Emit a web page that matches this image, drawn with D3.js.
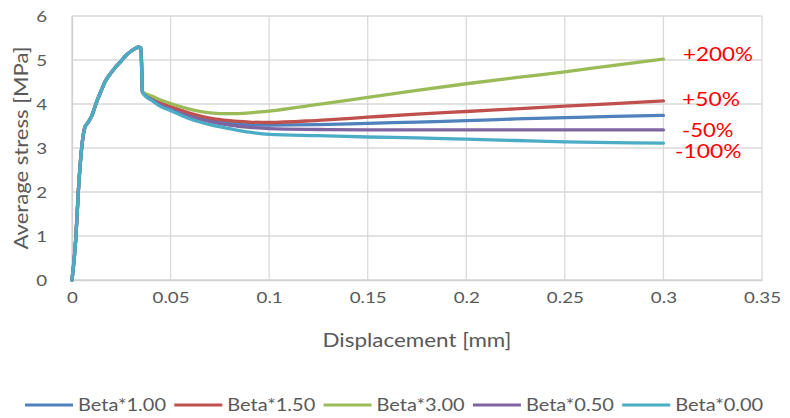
<!DOCTYPE html>
<html>
<head>
<meta charset="utf-8">
<script src="https://cdn.jsdelivr.net/npm/d3@7"></script>
<style>
  html, body { margin: 0; padding: 0; background: #fff; }
  svg { display: block; }
  text { font-family: Lato, "Open Sans", "Liberation Sans", sans-serif; }
</style>
</head>
<body>
<svg id="chart" width="790" height="418"></svg>
<script>
// ---- data ----
const displacement = [0, 0.002, 0.0032, 0.0049, 0.0066, 0.008, 0.010, 0.0125, 0.015, 0.0167, 0.019, 0.0218, 0.025, 0.0277, 0.030, 0.032, 0.0336, 0.0350, 0.0357,
  0.0375, 0.0404, 0.045, 0.05, 0.06, 0.07, 0.08, 0.09, 0.1, 0.125, 0.15, 0.175, 0.2, 0.225, 0.25, 0.275, 0.3];
const rising = [0, 1.0, 2.0, 3.0, 3.48, 3.57, 3.73, 4.05, 4.32, 4.5, 4.66, 4.82, 4.98, 5.12, 5.2, 5.26, 5.29, 5.27, 4.28];
const beta100 = rising.concat([4.19, 4.11, 3.99, 3.91, 3.75, 3.64, 3.57, 3.53, 3.52, 3.53, 3.56, 3.59, 3.62, 3.66, 3.69, 3.72, 3.74]);
const beta150 = rising.concat([4.20, 4.13, 4.02, 3.94, 3.79, 3.68, 3.62, 3.59, 3.58, 3.63, 3.70, 3.77, 3.83, 3.89, 3.95, 4.01, 4.07]);
const beta300 = rising.concat([4.23, 4.18, 4.09, 4.01, 3.88, 3.80, 3.78, 3.80, 3.84, 3.99, 4.15, 4.31, 4.46, 4.60, 4.73, 4.88, 5.02]);
const beta050 = rising.concat([4.18, 4.10, 3.97, 3.88, 3.71, 3.60, 3.52, 3.47, 3.44, 3.42, 3.41, 3.41, 3.41, 3.41, 3.41, 3.41, 3.41]);
const beta000 = rising.concat([4.17, 4.08, 3.94, 3.85, 3.66, 3.53, 3.44, 3.36, 3.31, 3.28, 3.25, 3.23, 3.20, 3.17, 3.14, 3.12, 3.11]);
const seriesNames = ["Beta*1.00", "Beta*1.50", "Beta*3.00", "Beta*0.50", "Beta*0.00"];
const seriesValues = [beta100, beta150, beta300, beta050, beta000];
const seriesColors = ["#4F81BD", "#C0504D", "#9BBB59", "#8064A2", "#4BACC6"];
const xTicks = [0, 0.05, 0.1, 0.15, 0.2, 0.25, 0.3, 0.35];
const xTickLabels = ["0", "0.05", "0.1", "0.15", "0.2", "0.25", "0.3", "0.35"];
const yTicks = [0, 1, 2, 3, 4, 5, 6];
const annotationTexts = ["+200%", "+50%", "-50%", "-100%"];
const annotationY = [4.98, 3.95, 3.26, 2.77];   // baseline value positions of labels
const xTitle = "Displacement [mm]";
const yTitle = "Average stress [MPa]";

// ---- layout ----
const svg = d3.select("#chart");
const plot = { left: 72, right: 762, top: 16, bottom: 280 };
const x = d3.scaleLinear().domain([0, 0.35]).range([plot.left, plot.right]);
const y = d3.scaleLinear().domain([0, 6]).range([plot.bottom, plot.top]);
const grid = "#D9D9D9";
const textCol = "#595959";
const stretchK = 1.17;

function stretch(sel, k) {
  sel.each(function () {
    const w = this.getComputedTextLength();
    d3.select(this).attr("textLength", w * k).attr("lengthAdjust", "spacingAndGlyphs");
  });
}

// gridlines
svg.append("g").selectAll("line.h").data(yTicks).join("line")
  .attr("x1", plot.left).attr("x2", plot.right)
  .attr("y1", d => y(d)).attr("y2", d => y(d))
  .attr("stroke", grid).attr("stroke-width", 1.3);
svg.append("g").selectAll("line.v").data(xTicks).join("line")
  .attr("x1", d => x(d)).attr("x2", d => x(d))
  .attr("y1", plot.top).attr("y2", plot.bottom)
  .attr("stroke", grid).attr("stroke-width", 1.3);

// axes (D3 axis generators, styled)
const xAxis = svg.append("g").attr("transform", `translate(0,${plot.bottom})`)
  .call(d3.axisBottom(x).tickValues(xTicks).tickFormat((d, i) => xTickLabels[i]).tickSize(0).tickPadding(17));
xAxis.select(".domain").attr("stroke", "#D0D0D0").attr("stroke-width", 1.3);
xAxis.selectAll("text").attr("fill", textCol).attr("font-size", 16).attr("dy", "0.4em")
  .style("font-family", "Lato, 'Open Sans', sans-serif");
stretch(xAxis.selectAll("text"), stretchK);

const yAxis = svg.append("g").attr("transform", `translate(${plot.left},0)`)
  .call(d3.axisLeft(y).tickValues(yTicks).tickFormat(d3.format("d")).tickSize(0).tickPadding(25));
yAxis.select(".domain").attr("stroke", "#D0D0D0").attr("stroke-width", 1.3);
yAxis.selectAll("text").attr("fill", textCol).attr("font-size", 16).attr("dy", "0.36em")
  .style("font-family", "Lato, 'Open Sans', sans-serif");
stretch(yAxis.selectAll("text"), stretchK);

// axis titles
svg.append("text").attr("x", 417).attr("y", 347).attr("text-anchor", "middle")
  .attr("fill", textCol).attr("font-size", 18.5)
  .attr("textLength", 189).attr("lengthAdjust", "spacingAndGlyphs").text(xTitle);
svg.append("text").attr("transform", `translate(28,${(plot.top + plot.bottom) / 2}) rotate(-90)`)
  .attr("text-anchor", "middle").attr("fill", textCol).attr("font-size", 19)
  .attr("textLength", 203).attr("lengthAdjust", "spacingAndGlyphs").text(yTitle);

// series lines
const line = d3.line().x((d, i) => x(displacement[i])).y(d => y(d)).curve(d3.curveMonotoneX);
svg.append("g").selectAll("path").data(seriesValues).join("path")
  .attr("d", d => line(d))
  .attr("fill", "none")
  .attr("stroke", (d, i) => seriesColors[i])
  .attr("stroke-width", 3.3)
  .attr("stroke-linejoin", "round").attr("stroke-linecap", "round");

// red annotations
const annX = [683, 682, 682, 675];
const annW = [70, 58, 51.5, 66.5];
svg.append("g").selectAll("text").data(annotationTexts).join("text")
  .attr("x", (d, i) => annX[i]).attr("y", (d, i) => y(annotationY[i]))
  .attr("fill", "#FF0000").attr("font-size", 19.5)
  .attr("textLength", (d, i) => annW[i]).attr("lengthAdjust", "spacingAndGlyphs")
  .text(d => d);

// legend
const legend = svg.append("g");
const legX0 = 25, legStep = 149.3, legY = 405;
seriesNames.forEach((name, i) => {
  const gx = legX0 + i * legStep;
  legend.append("line").attr("x1", gx).attr("x2", gx + 48).attr("y1", legY).attr("y2", legY)
    .attr("stroke", seriesColors[i]).attr("stroke-width", 3);
  legend.append("text").attr("x", gx + 53).attr("y", legY + 6)
    .attr("fill", textCol).attr("font-size", 17)
    .attr("textLength", 88).attr("lengthAdjust", "spacingAndGlyphs").text(name);
});
</script>
</body>
</html>
